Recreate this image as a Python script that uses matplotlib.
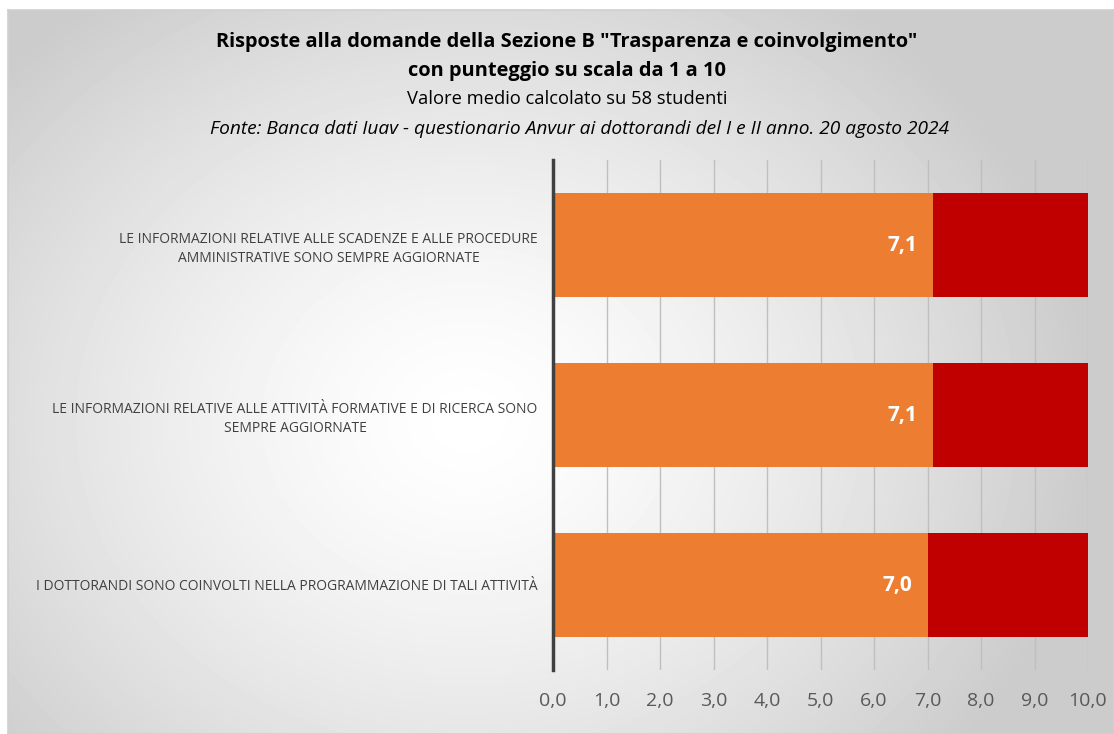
import numpy as np
import matplotlib
matplotlib.use("Agg")
import matplotlib.pyplot as plt
from matplotlib.ticker import FuncFormatter

# ---- data ------------------------------------------------------------------
categories = [
    "LE INFORMAZIONI RELATIVE ALLE SCADENZE E ALLE PROCEDURE\nAMMINISTRATIVE SONO SEMPRE AGGIORNATE",
    "LE INFORMAZIONI RELATIVE ALLE ATTIVITÀ FORMATIVE E DI RICERCA SONO\nSEMPRE AGGIORNATE",
    "I DOTTORANDI SONO COINVOLTI NELLA PROGRAMMAZIONE DI TALI ATTIVITÀ",
]
scores = [7.1, 7.1, 7.0]
scale_max = 10.0
remainder = [scale_max - s for s in scores]

plt.rcParams["font.family"] = ["Open Sans", "DejaVu Sans"]

fig = plt.figure(figsize=(11.14, 7.34), dpi=100)

# ---- radial gradient background + frame ----------------------------------
bg = fig.add_axes([8 / 1114, 0, 1 - 8 / 1114, 1 - 10 / 734], zorder=-10)
yy, xx = np.mgrid[0:724, 0:1106]
cx, cy = 460, 410
r = np.hypot((xx - cx) / 620.0, (yy - cy) / 520.0)
shade = 1.0 - 0.2 * np.clip(r, 0, 1) ** 1.4
bg.imshow(shade, cmap="gray", vmin=0, vmax=1, aspect="auto",
          interpolation="bilinear")
bg.set_xticks([]); bg.set_yticks([])
for s in bg.spines.values():
    s.set_color("#d0d0d0")
    s.set_linewidth(1.2)

# ---- titles ----------------------------------------------------------------
xc = 567 / 1114
fig.text(xc, 1 - 42 / 734, 'Risposte alla domande della Sezione B "Trasparenza e coinvolgimento"',
         ha="center", va="center", fontsize=14.4, fontweight="bold", color="black")
fig.text(xc, 1 - 71 / 734, "con punteggio su scala da 1 a 10",
         ha="center", va="center", fontsize=14.4, fontweight="bold", color="black")
fig.text(xc, 1 - 99 / 734, "Valore medio calcolato su 58 studenti",
         ha="center", va="center", fontsize=13.2, color="black")
fig.text(579 / 1114, 1 - 129 / 734,
         "Fonte: Banca dati Iuav - questionario Anvur ai dottorandi del I e II anno. 20 agosto 2024",
         ha="center", va="center", fontsize=13.8, style="italic", color="black")

# ---- bars ------------------------------------------------------------------
ax = fig.add_axes([553 / 1114, 1 - 670 / 734, (1088 - 553) / 1114, 510 / 734])
ax.patch.set_alpha(0)
y = np.arange(len(categories))
ax.barh(y, scores, height=0.615, color="#ED7D31", zorder=3)
ax.barh(y, remainder, left=scores, height=0.615, color="#C00000", zorder=3)
for yi, v in zip(y, scores):
    ax.text(v - 0.28, yi, f"{v:.1f}".replace(".", ","), ha="right", va="center",
            color="white", fontsize=15, fontweight="bold", zorder=4)

ax.set_xlim(0, scale_max)
ax.set_ylim(len(categories) - 0.5, -0.5)
ax.set_xticks(np.arange(0, 11, 1))
ax.xaxis.set_major_formatter(FuncFormatter(lambda v, _: f"{v:.1f}".replace(".", ",")))
ax.tick_params(axis="x", length=0, pad=16, labelsize=14, labelcolor="#595959")
ax.grid(axis="x", color="#bfbfbf", linewidth=1, zorder=0)
ax.set_yticks(y)
ax.set_yticklabels(categories, fontsize=10, color="#404040", multialignment="center",
                   linespacing=1.35)
ax.tick_params(axis="y", length=0, pad=11)
for side in ["top", "right", "bottom"]:
    ax.spines[side].set_visible(False)
ax.spines["left"].set_color("#404040")
ax.spines["left"].set_linewidth(2.5)
ax.spines["left"].set_zorder(5)

fig.savefig("out.png", dpi=100)
